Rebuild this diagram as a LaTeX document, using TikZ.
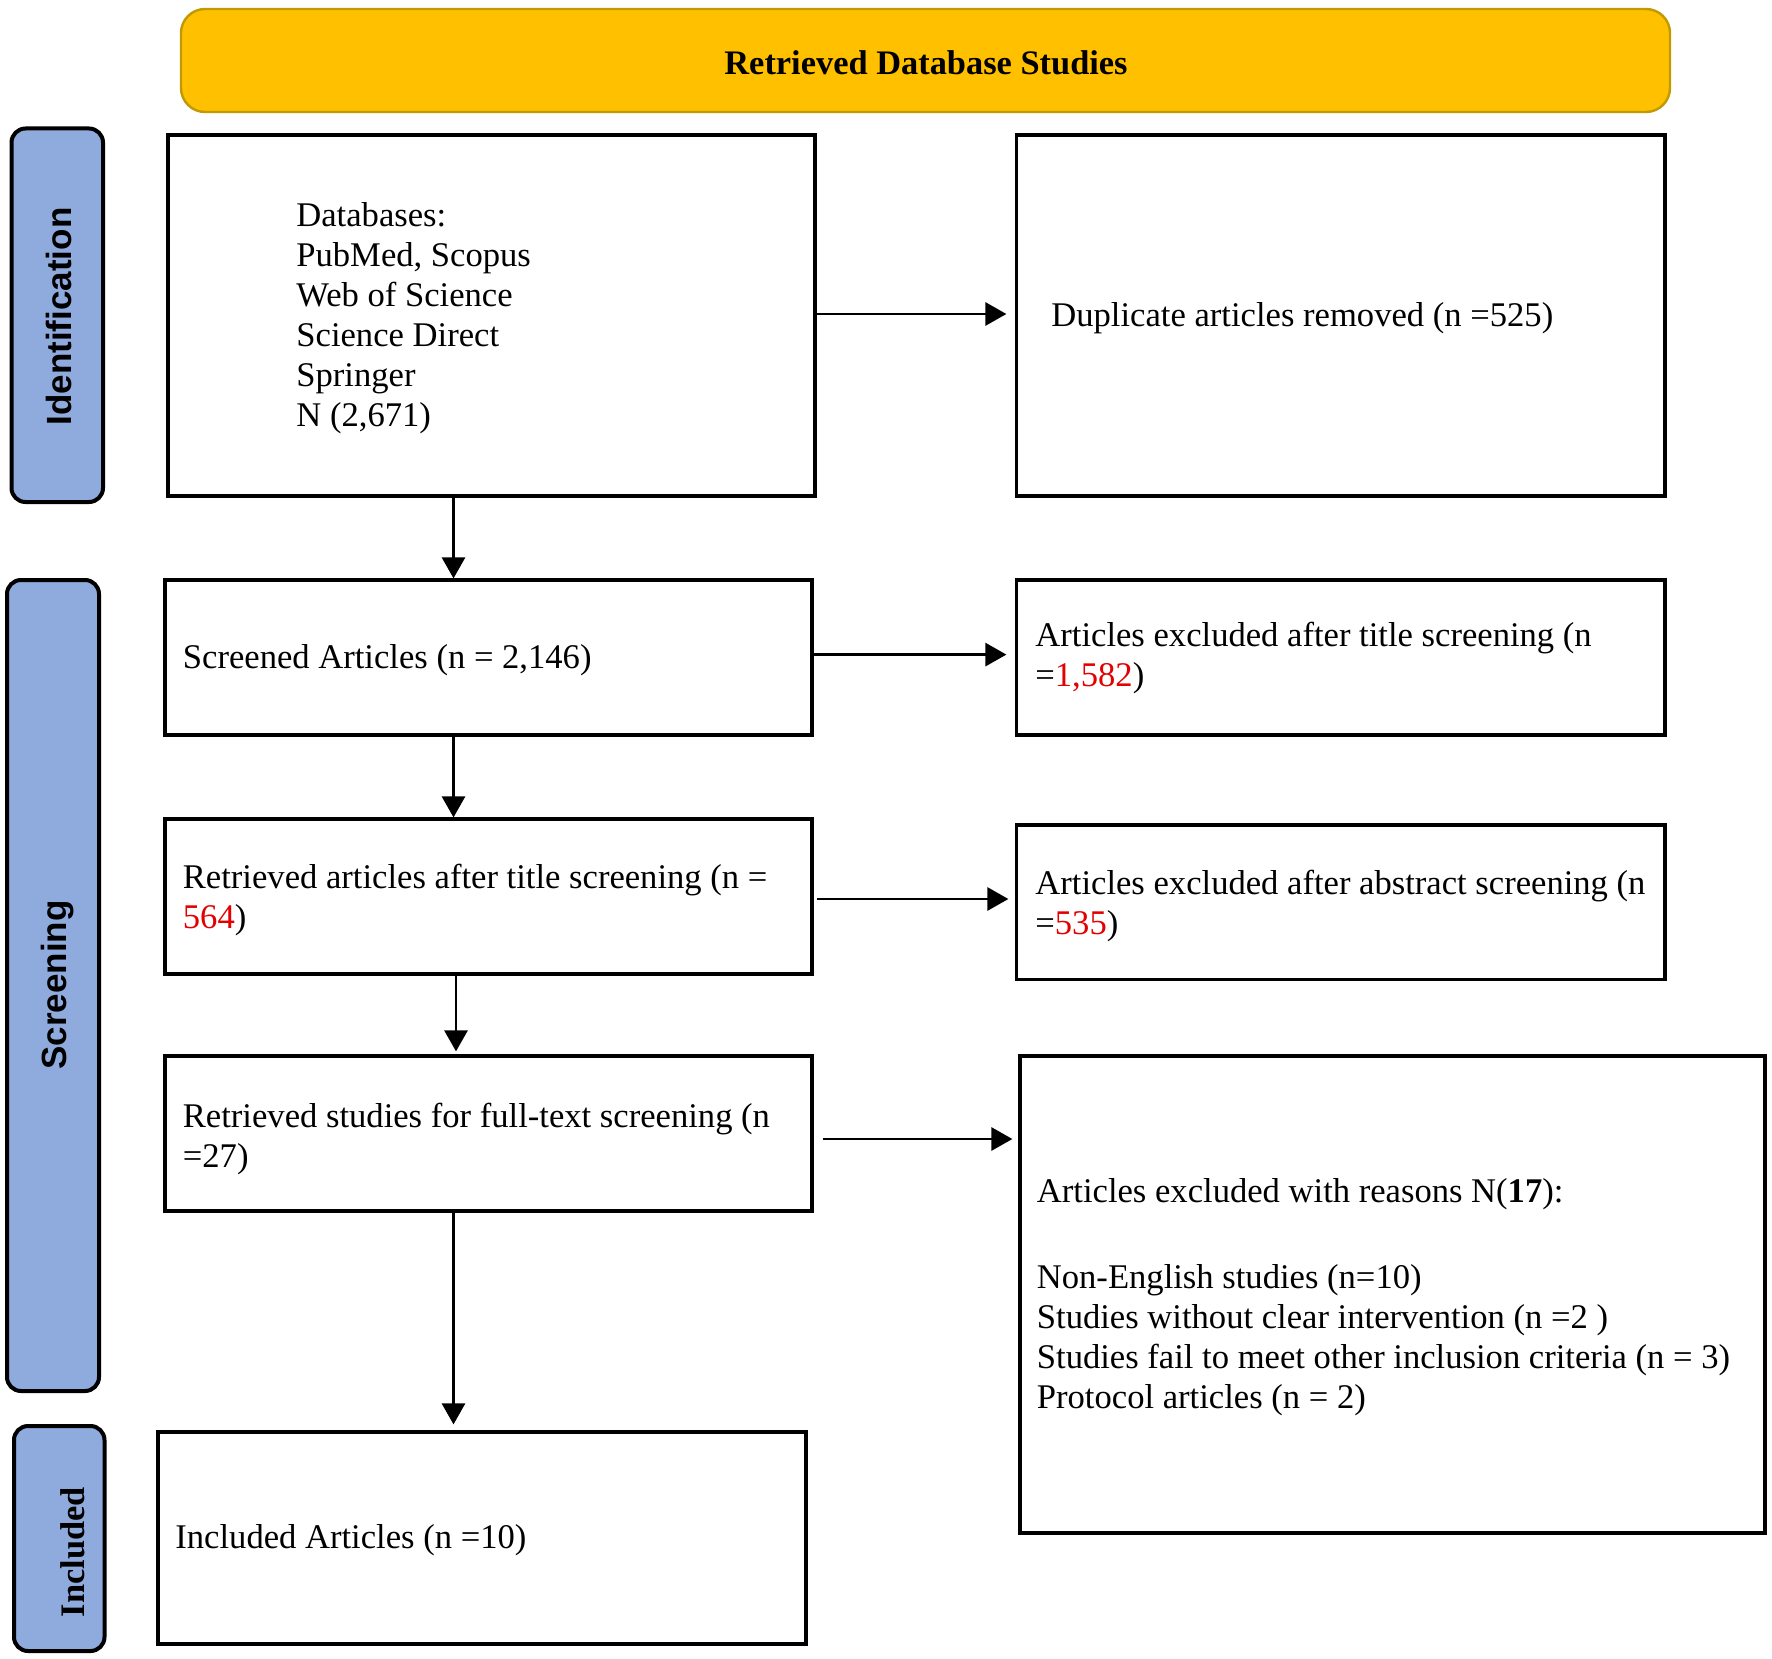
\documentclass[tikz,border=0pt]{standalone}
\usepackage{fontspec}
\setmainfont{Liberation Serif}
\newfontfamily\tabsans{Liberation Sans}
\usetikzlibrary{arrows.meta}
\definecolor{gold}{HTML}{FFC000}
\definecolor{goldedge}{HTML}{C09A00}
\definecolor{tabblue}{HTML}{8FAADC}
\definecolor{numred}{RGB}{228,0,0}
\tikzset{
  x=0.5pt, y=-0.5pt,
  box/.style={draw=black, line width=1.6pt, fill=white, inner sep=0pt, rectangle},
  tabbox/.style={draw=black, line width=2pt, fill=tabblue, rounded corners=7pt, inner sep=0pt},
  txt/.style={anchor=west, inner sep=0pt, align=left, font=\fontsize{17.3}{20}\selectfont},
  tabtxt/.style={rotate=90, inner sep=0pt, font=\tabsans\bfseries\fontsize{17.5}{20}\selectfont},
  arr/.style={line width=1.4pt, -{Triangle[length=10.5pt, width=11.5pt]}},
}
\begin{document}
\begin{tikzpicture}
\useasboundingbox (0,0) rectangle (1772,1659);
% header
\node[draw=goldedge, line width=1.2pt, fill=gold, rounded corners=12pt,
      minimum width=744.5pt, minimum height=51.5pt, inner sep=0pt] (hdr) at (925.5,60.5) {};
\node[inner sep=0pt, font=\bfseries\fontsize{17.2}{20}\selectfont] (hdrt) at (926,63) {Retrieved Database Studies};
% side tabs
\node[tabbox, minimum width=45.75pt, minimum height=186.75pt] (tabI) at (57.25,315.25) {};
\node[tabbox, minimum width=46pt, minimum height=405.5pt] (tabS) at (53,985.5) {};
\node[tabbox, minimum width=45.25pt, minimum height=112.5pt] (tabN) at (59.25,1538.5) {};
\node[tabtxt] (tabIt) at (59,316.5) {Identification};
\node[tabtxt] (tabSt) at (57.5,985) {Screening};
\node[tabtxt, font=\bfseries\fontsize{17.2}{20}\selectfont] (tabNt) at (73,1552) {Included};
% boxes
\node[box, minimum width=323.5pt, minimum height=180.5pt] (db) at (491.5,315.5) {};
\node[box, minimum width=324.25pt, minimum height=180.5pt] (dup) at (1340.75,315.5) {};
\node[box, minimum width=323.5pt, minimum height=77.5pt] (sc) at (488.5,657.5) {};
\node[box, minimum width=324.25pt, minimum height=77.5pt] (ex1) at (1340.75,657.5) {};
\node[box, minimum width=323.5pt, minimum height=77.5pt] (ra) at (488.5,896.5) {};
\node[box, minimum width=324.25pt, minimum height=77.25pt] (ex2) at (1340.75,902.25) {};
\node[box, minimum width=323.5pt, minimum height=77.5pt] (ft) at (488.5,1133.5) {};
\node[box, minimum width=372.5pt, minimum height=238.5pt] (rs) at (1392.5,1294.5) {};
\node[box, minimum width=324pt, minimum height=106pt] (inc) at (482,1538) {};
% texts
\node[txt] (dbt) at (296,318) {Databases:\\PubMed, Scopus\\Web of Science\\Science Direct\\Springer\\N (2,671)};
\node[txt] (dupt) at (1051,318) {Duplicate articles removed (n =525)};
\node[txt] (sct) at (182.5,660) {Screened Articles (n = 2,146)};
\node[txt] (rat) at (182.5,900) {Retrieved articles after title screening (n =\\\textcolor{numred}{564})};
\node[txt] (ftt) at (182.5,1138.5) {Retrieved studies for full-text screening (n\\=27)};
\node[txt] (ex1t) at (1035,658) {Articles excluded after title screening (n\\=\textcolor{numred}{1,582})};
\node[txt] (ex2t) at (1035,905.5) {Articles excluded after abstract screening (n\\=\textcolor{numred}{535})};
\node[txt] (rst) at (1036.5,1297) {Articles excluded with reasons N(\textbf{17}):\\[23pt]
Non-English studies (n=10)\\
Studies without clear intervention (n =2 )\\
Studies fail to meet other inclusion criteria (n = 3)\\
Protocol articles (n = 2)};
\node[txt] (inct) at (175,1540) {Included Articles (n =10)};
% connector anchors
\coordinate (ax1) at (453.5,0);
\coordinate (ax2) at (456,0);
\coordinate (h1) at ([yshift=0.75pt]db.east);
\coordinate (h2) at ([yshift=1.45pt]sc.east);
\coordinate (h3) at ([yshift=-1.25pt]ra.east);
\coordinate (h4) at ([yshift=-2.75pt]ft.east);
% horizontal arrows
\draw[arr, shorten >=4.25pt] (h1) -- (h1 -| dup.west);
\draw[arr, shorten >=4.25pt] (h2) -- (h2 -| ex1.west);
\draw[arr, shorten <=1.5pt, shorten >=3.25pt] (h3) -- (h3 -| ex2.west);
\draw[arr, shorten <=4.5pt, shorten >=3pt] (h4) -- (h4 -| rs.west);
% vertical arrows
\draw[arr] (db.south -| ax1) -- (sc.north -| ax1);
\draw[arr] (sc.south -| ax1) -- (ra.north -| ax1);
\draw[arr, shorten >=1.5pt] (ra.south -| ax2) -- (ft.north -| ax2);
\draw[arr, shorten >=3pt] (ft.south -| ax1) -- (inc.north -| ax1);
\end{tikzpicture}
\end{document}
